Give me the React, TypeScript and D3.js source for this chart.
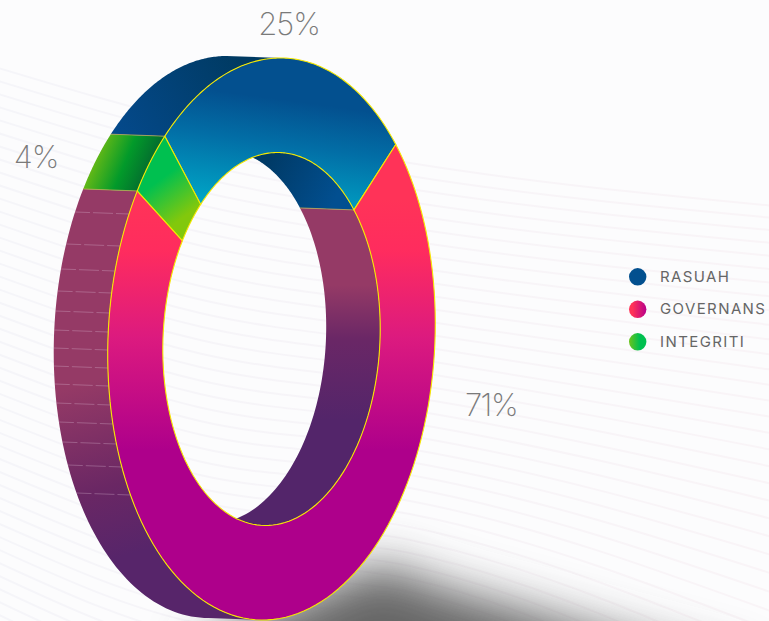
import React from "react";
import * as d3 from "d3";

const categories = ["RASUAH", "GOVERNANS", "INTEGRITI"];
const shares = [25, 71, 4];
const shareLabels = ["25%", "71%", "4%"];
const startDeg = -43.8;

const W = 769, H = 621;
const front = { x: 271.5, y: 339 };
const back = { x: 217.5, y: 337 };
const squash = 0.582;
const lean = 0.032;
const Ro = 281, Ri = 186.5;
const rad = Math.PI / 180;

const slices = d3.pie<number>().sort(null).startAngle(startDeg * rad).endAngle((startDeg + 360) * rad)(shares);
const [blue, red, green] = slices;

type Centre = { x: number; y: number };

// Point on the squashed, slightly leaning circle of radius r; angle runs clockwise from twelve o'clock.
const pt = (c: Centre, r: number, a: number): [number, number] => [
  c.x + squash * r * Math.sin(a) + lean * r * Math.cos(a),
  c.y - r * Math.cos(a),
];

const span = (a0: number, a1: number, n = 80) => d3.range(0, n + 1).map((i) => a0 + ((a1 - a0) * i) / n);
const closed = (pts: [number, number][]) => d3.line()(pts)! + "Z";

// Extruded wall between the front and back rims across an angular span.
const wall = (r: number, a0: number, a1: number) => {
  const as = span(a0, a1);
  return closed([...as.map((a) => pt(front, r, a)), ...as.slice().reverse().map((a) => pt(back, r, a))]);
};

// Front face of one ring segment.
const face = (a0: number, a1: number) => {
  const as = span(a0, a1, 120);
  return closed([...as.map((a) => pt(front, Ro, a)), ...as.slice().reverse().map((a) => pt(front, Ri, a))]);
};

// Rib heights on the outer flank, read at the back rim.
const ribY = [212, 244, 269, 291, 311, 330, 348, 366, 384, 403, 422, 442, 465, 493];

// Faint swept lines that fill the page background below its clean top area.
const sweep = d3.line<[number, number]>().curve(d3.curveMonotoneX);
const bgLines = d3.range(0, 48).map((i) =>
  sweep([
    [-5, 67 + 13 * i],
    [200, 124 + 13.5 * i],
    [410, 163 + 13 * i],
    [775, 206 + 12 * i + 0.14 * i * i],
  ])
);

const shadowEdge = d3.line()([[190, 650], [380, 563], [450, 590], [740, 668], [800, 760], [400, 760]]) + "Z";

const Stop = ({ o, c }: { o: number; c: string }) => <stop offset={o} stopColor={c} />;

export default function App() {
  return (
    <svg width={W} height={H} viewBox={`0 0 ${W} ${H}`} style={{ position: "absolute", left: 0, top: 0, background: "#fcfcfd" }}>
      <defs>
        <linearGradient id="fBlue" gradientUnits="userSpaceOnUse" x1="285" y1="100" x2="270" y2="210">
          <Stop o={0} c="#03508f" /><Stop o={0.4} c="#026ea6" /><Stop o={1} c="#00a5c6" />
        </linearGradient>
        <linearGradient id="fRed" gradientUnits="userSpaceOnUse" x1="0" y1="200" x2="0" y2="450">
          <Stop o={0} c="#ff3358" /><Stop o={0.2} c="#ff2c5e" /><Stop o={0.55} c="#dc1a7f" /><Stop o={1} c="#ae008b" />
        </linearGradient>
        <linearGradient id="fGreen" gradientUnits="userSpaceOnUse" x1="150" y1="170" x2="190" y2="225">
          <Stop o={0.2} c="#00c050" /><Stop o={0.85} c="#82c80c" />
        </linearGradient>
        <linearGradient id="wBlue" gradientUnits="userSpaceOnUse" x1="120" y1="130" x2="240" y2="60">
          <Stop o={0} c="#04498a" /><Stop o={1} c="#003a62" />
        </linearGradient>
        <linearGradient id="wGreen" gradientUnits="userSpaceOnUse" x1="95" y1="150" x2="155" y2="175">
          <Stop o={0} c="#6fbc14" /><Stop o={0.5} c="#029a2a" /><Stop o={1} c="#045f30" />
        </linearGradient>
        <linearGradient id="wMauve" gradientUnits="userSpaceOnUse" x1="60" y1="390" x2="110" y2="560">
          <Stop o={0} c="#953a66" /><Stop o={0.6} c="#6a2764" /><Stop o={1} c="#57256a" />
        </linearGradient>
        <linearGradient id="iBlue" gradientUnits="userSpaceOnUse" x1="265" y1="165" x2="335" y2="200">
          <Stop o={0} c="#003a66" /><Stop o={1} c="#024f90" />
        </linearGradient>
        <linearGradient id="iMauve" gradientUnits="userSpaceOnUse" x1="0" y1="285" x2="0" y2="420">
          <Stop o={0} c="#953a66" /><Stop o={0.4} c="#6a2766" /><Stop o={1} c="#53256a" />
        </linearGradient>
        <linearGradient id="bgTint" gradientUnits="userSpaceOnUse" x1="0" y1="0" x2="769" y2="0">
          <Stop o={0} c="#f5f5f9" /><Stop o={1} c="#f9f4f7" />
        </linearGradient>
        <linearGradient id="lgBlue"><Stop o={0} c="#03508f" /><Stop o={1} c="#02508f" /></linearGradient>
        <linearGradient id="lgRed"><Stop o={0.2} c="#ff3358" /><Stop o={1} c="#b8008a" /></linearGradient>
        <linearGradient id="lgGreen"><Stop o={0} c="#6cc31c" /><Stop o={0.6} c="#00c050" /></linearGradient>
        <filter id="soft" x="-30%" y="-60%" width="160%" height="220%"><feGaussianBlur stdDeviation="24" /></filter>
      </defs>

      <g fill="none" stroke="url(#bgTint)" strokeWidth={2}>
        {bgLines.map((d, i) => <path key={i} d={d!} />)}
      </g>

      {/* Cast shadow under the ring */}
      <path d={shadowEdge} fill="#666" filter="url(#soft)" />

      {/* Inner walls seen through the hole */}
      <path d={wall(Ri, 0, blue.endAngle)} fill="url(#iBlue)" />
      <path d={wall(Ri, blue.endAngle, Math.PI)} fill="url(#iMauve)" />

      {/* Outer walls on the left flank */}
      <path d={wall(Ro, Math.PI, red.endAngle)} fill="url(#wMauve)" />
      <path d={wall(Ro, green.startAngle, green.endAngle)} fill="url(#wGreen)" />
      <path d={wall(Ro, blue.startAngle + 2 * Math.PI, 2 * Math.PI)} fill="url(#wBlue)" />

      {/* Seams between facets of the walls */}
      <g stroke="#b9a84e" strokeWidth={0.8} fill="none">
        {[
          { a: green.startAngle, r: Ro },
          { a: green.endAngle, r: Ro },
          { a: blue.endAngle, r: Ri },
        ].map(({ a, r }, i) => {
          const [x1, y1] = pt(front, r, a);
          const [x2, y2] = pt(back, r, a);
          return <line key={i} x1={x1} y1={y1} x2={x2} y2={y2} />;
        })}
      </g>
      <g stroke="#dcbcd6" strokeWidth={0.8} strokeOpacity={0.4} strokeDasharray="15 3 20 3 14 3">
        {ribY.map((y) => {
          const a = 2 * Math.PI - Math.acos((back.y - y) / Ro);
          const [x1, y1] = pt(back, Ro, a);
          const [x2, y2] = pt(front, Ro, a);
          return <line key={y} x1={x1} y1={y1} x2={x2} y2={y2} />;
        })}
      </g>

      {/* Front face of the ring */}
      {[
        { s: blue, f: "url(#fBlue)" },
        { s: red, f: "url(#fRed)" },
        { s: green, f: "url(#fGreen)" },
      ].map(({ s, f }, i) => (
        <path key={i} d={face(s.startAngle, s.endAngle)} fill={f} stroke="#f5e800" strokeWidth={1.1} strokeLinejoin="round" />
      ))}

      {/* Share labels */}
      <g fontFamily="Inter, Lato, sans-serif" fontWeight={200} fontSize={31} fill="#7a7a7a" textAnchor="middle">
        <text x={289} y={35} letterSpacing={-1}>{shareLabels[0]}</text>
        <text x={491} y={416} letterSpacing={-1.5}>{shareLabels[1]}</text>
        <text x={36} y={168} letterSpacing={-1}>{shareLabels[2]}</text>
      </g>

      {/* Legend */}
      {categories.map((c, i) => (
        <g key={c} transform={`translate(0,${276.8 + i * 32.5})`}>
          <circle cx={637.7} cy={0} r={8.7} fill={["url(#lgBlue)", "url(#lgRed)", "url(#lgGreen)"][i]} />
          <text x={660} y={4.8} fontFamily="Inter, sans-serif" fontSize={15} letterSpacing={1.4} fill="#666">{c}</text>
        </g>
      ))}
    </svg>
  );
}
